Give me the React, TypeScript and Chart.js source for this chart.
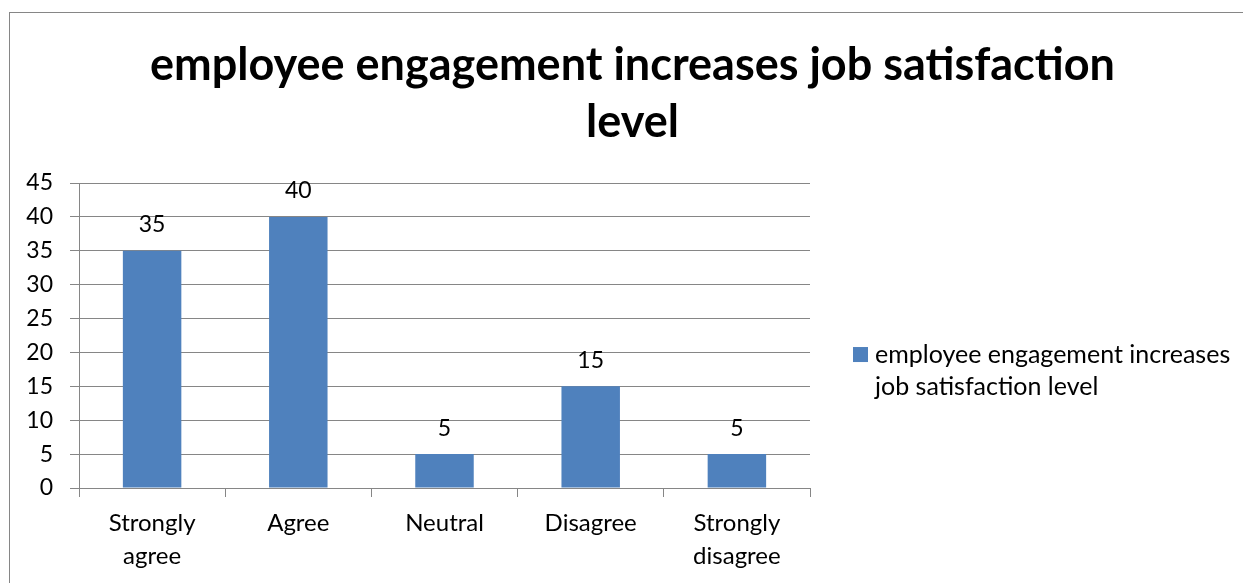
import React, { useEffect, useRef } from "react";
import { Chart, registerables, layouts } from "chart.js";

Chart.register(...registerables);

const categories: (string | string[])[] = [
  ["Strongly", "agree"],
  "Agree",
  "Neutral",
  "Disagree",
  ["Strongly", "disagree"],
];
const values: number[] = [35, 40, 5, 15, 5];
const seriesName = "employee engagement increases job satisfaction level";
const legendLines: string[] = ["employee engagement increases", "job satisfaction level"];
const titleLines: string[] = ["employee engagement increases job satisfaction", "level"];
const yMin = 0;
const yMax = 45;
const yStep = 5;

const FONT = "Lato, 'Open Sans', sans-serif";
const BAR_COLOR = "#4F81BD";
const GRID_COLOR = "#868686";
const TEXT_COLOR = "#000000";

const frameBgPlugin = {
  id: "frameBg",
  beforeDraw(chart: any) {
    const ctx = chart.ctx;
    ctx.save();
    ctx.fillStyle = "#ffffff";
    ctx.fillRect(0, 0, chart.width, chart.height);
    ctx.strokeStyle = GRID_COLOR;
    ctx.lineWidth = 1;
    ctx.strokeRect(9.5, 12.5, 1300, 640);
    ctx.restore();
  },
};

const dataLabelPlugin = {
  id: "dataLabels",
  afterDatasetsDraw(chart: any) {
    const ctx = chart.ctx;
    ctx.save();
    ctx.fillStyle = TEXT_COLOR;
    ctx.font = `23px ${FONT}`;
    ctx.textAlign = "center";
    ctx.textBaseline = "middle";
    chart.data.datasets.forEach((ds: any, di: number) => {
      const meta = chart.getDatasetMeta(di);
      meta.data.forEach((bar: any, i: number) => {
        ctx.fillText(String(ds.data[i]), bar.x, bar.y - 26);
      });
    });
    ctx.restore();
  },
};

const sideLegendPlugin = {
  id: "sideLegend",
  start(chart: any) {
    const box: any = {
      position: "right",
      weight: 0,
      fullSize: false,
      options: { stackWeight: 1 },
      left: 0,
      top: 0,
      right: 0,
      bottom: 0,
      width: 0,
      height: 0,
      isHorizontal() {
        return false;
      },
      update(maxWidth: number, maxHeight: number) {
        this.width = 433;
        this.height = maxHeight;
      },
      draw() {
        const ctx = chart.ctx;
        const ds = chart.data.datasets[0];
        ctx.save();
        ctx.fillStyle = ds.backgroundColor;
        ctx.fillRect(this.left + 43, this.top + 164, 15, 15);
        ctx.fillStyle = TEXT_COLOR;
        ctx.font = `25px ${FONT}`;
        ctx.textAlign = "left";
        ctx.textBaseline = "middle";
        legendLines.forEach((line, i) => {
          ctx.fillText(line, this.left + 65, this.top + 172 + i * 32);
        });
        ctx.restore();
      },
    };
    chart.$sideLegend = box;
    layouts.addBox(chart, box);
  },
  stop(chart: any) {
    if (chart.$sideLegend) layouts.removeBox(chart, chart.$sideLegend);
  },
};

export default function App() {
  const canvasRef = useRef<HTMLCanvasElement | null>(null);

  useEffect(() => {
    if (!canvasRef.current) return;
    const chart = new Chart(canvasRef.current, {
      type: "bar",
      data: {
        labels: categories,
        datasets: [
          {
            label: seriesName,
            data: values,
            backgroundColor: BAR_COLOR,
            borderWidth: 0,
            categoryPercentage: 1,
            barPercentage: 0.4,
          },
        ],
      },
      options: {
        animation: false,
        responsive: false,
        maintainAspectRatio: false,
        layout: { padding: { left: 22, right: 0, top: 0, bottom: 0 } },
        plugins: {
          legend: { display: false },
          tooltip: { enabled: false },
          title: {
            display: true,
            text: titleLines,
            color: TEXT_COLOR,
            font: { family: FONT, size: 45, weight: "bold", lineHeight: 1.267 },
            padding: { top: 37, bottom: 32 },
          },
        },
        scales: {
          x: {
            offset: true,
            grid: {
              offset: true,
              drawOnChartArea: false,
              drawTicks: true,
              tickLength: 9,
              color: GRID_COLOR,
            },
            border: { display: true, color: GRID_COLOR },
            ticks: {
              color: TEXT_COLOR,
              font: { family: FONT, size: 24, lineHeight: 1.375 },
              padding: 10,
              maxRotation: 0,
              autoSkip: false,
            },
          },
          y: {
            min: yMin,
            max: yMax,
            afterFit(scale: any) {
              scale.width = 57;
            },
            grid: {
              drawTicks: true,
              tickLength: 9,
              color: GRID_COLOR,
            },
            border: { display: true, color: GRID_COLOR },
            ticks: {
              stepSize: yStep,
              color: TEXT_COLOR,
              font: { family: FONT, size: 23 },
              padding: 17,
            },
          },
        },
      },
      plugins: [frameBgPlugin, dataLabelPlugin, sideLegendPlugin],
    });
    return () => chart.destroy();
  }, []);

  return (
    <div style={{ position: "absolute", left: 0, top: 0, width: 1243, height: 583 }}>
      <canvas ref={canvasRef} width={1243} height={583} />
    </div>
  );
}
